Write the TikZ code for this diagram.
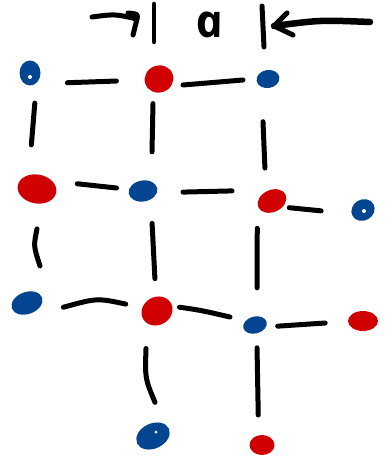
\documentclass[tikz,border=0pt]{standalone}
\usepackage{fontspec}
\newfontfamily\handfont{Open Sans}
\usetikzlibrary{shapes.geometric,calc}
\definecolor{dotblue}{RGB}{3,69,145}
\definecolor{dotred}{RGB}{208,0,0}
\begin{document}
\begin{tikzpicture}[x=1pt,y=-1pt,
  blob/.style={ellipse,inner sep=0pt,draw=none},
  bl/.style={blob,fill=dotblue},
  rd/.style={blob,fill=dotred},
  bond/.style={line width=5pt,line cap=round,line join=round,black},
  bar/.style={line width=4.5pt,line cap=round,black},
  hole/.style={fill=white}]
\useasboundingbox (0,0) rectangle (389,457);
% sites
\node[bl,minimum width=21pt,minimum height=25pt] (b1) at (30,73) {};
\node[rd,minimum width=29pt,minimum height=27pt,rotate=20] (r1) at (159,79) {};
\node[bl,minimum width=23pt,minimum height=18pt,rotate=10] (b2) at (268,79) {};
\node[rd,minimum width=39pt,minimum height=29pt,rotate=-10] (r2) at (37,189) {};
\node[bl,minimum width=29pt,minimum height=21pt,rotate=10] (b3) at (143,191) {};
\node[rd,minimum width=30pt,minimum height=22pt,rotate=25] (r3) at (272,201) {};
\node[bl,minimum width=24pt,minimum height=21pt,rotate=30] (b4) at (363,210) {};
\node[bl,minimum width=32pt,minimum height=22pt,rotate=20] (b5) at (27,303) {};
\node[rd,minimum width=32pt,minimum height=28pt,rotate=30] (r4) at (157,311) {};
\node[bl,minimum width=24pt,minimum height=17pt,rotate=15] (b6) at (255,325) {};
\node[rd,minimum width=30pt,minimum height=20pt] (r5) at (363,321) {};
\node[bl,minimum width=35pt,minimum height=25pt,rotate=25] (b7) at (153,436) {};
\node[rd,minimum width=25pt,minimum height=20pt] (r6) at (262,445) {};
% small white gaps in the blobs
\fill[hole] ($(b1)+(0,4)$) circle[radius=2];
\fill[hole] ($(b4)+(1,1)$) circle[radius=2];
\fill[hole] ($(b7)+(3,-4)$) circle[radius=1.5];
% bonds
\draw[bond] ($(b1)!0.29!(r1)+(0,8)$) -- ($(b1)!0.67!(r1)+(0,4)$);
\draw[bond] ($(r1)!0.22!(b2)+(0,6)$) -- ($(r1)!0.77!(b2)+(0,1)$);
\draw[bond] ($(b1)!0.26!(r2)+(3,0)$) -- ($(b1)!0.62!(r2)+(-3,0)$);
\draw[bond] ($(r1)!0.22!(b3)+(-2.5,0)$) -- ($(r1)!0.65!(b3)+(3.4,0)$);
\draw[bond] ($(b2)!0.35!(r3)+(-6.4,0)$) -- ($(b2)!0.73!(r3)+(-6,0)$);
\draw[bond] ($(r2)!0.38!(b3)+(0,-6)$) -- ($(r2)!0.75!(b3)+(0,-2.5)$);
\draw[bond] ($(b3)!0.31!(r3)+(0,-2)$) -- ($(b3)!0.69!(r3)+(0,-7)$);
\draw[bond] ($(r3)!0.19!(b4)+(0,5)$) -- ($(r3)!0.54!(b4)+(0,5)$);
\draw[bond] ($(r2)!0.35!(b5)+(3.5,0)$) .. controls ($(r2)!0.5!(b5)+(1.5,0)$) .. ($(r2)!0.675!(b5)+(9.75,0)$);
\draw[bond] ($(b3)!0.27!(r4)+(5.3,0)$) -- ($(b3)!0.73!(r4)+(1.7,0)$);
\draw[bond] ($(r3)!0.22!(b6)+(-11,0)$) -- ($(r3)!0.70!(b6)+(-3,0)$);
\draw[bond] ($(b5)!0.28!(r4)+(0,2)$) .. controls ($(b5)!0.5!(r4)+(5,-9)$) .. ($(b5)!0.76!(r4)+(0,-5)$);
\draw[bond] ($(r4)!0.23!(b6)+(0,-7)$) .. controls ($(r4)!0.45!(b6)+(0,-7)$) .. ($(r4)!0.745!(b6)+(0,-4.4)$);
\draw[bond] ($(b6)!0.21!(r5)+(0,2)$) -- ($(b6)!0.65!(r5)+(0,0.6)$);
\draw[bond] ($(r4)!0.30!(b7)+(-9.8,0)$) .. controls ($(r4)!0.5!(b7)+(-10,5)$) .. ($(r4)!0.73!(b7)+(0.9,0)$);
\draw[bond] ($(b6)!0.19!(r6)+(0.7,0)$) -- ($(b6)!0.75!(r6)+(-2,0)$);
% width annotation
\coordinate (bar1top) at (154,4);
\coordinate (bar1bot) at (154,42);
\coordinate (bar2top) at (262,6);
\coordinate (bar2bot) at (264,47);
\draw[bar] (bar1top) -- (bar1bot);
\draw[bar,line width=5pt] (bar2top) -- (bar2bot);
\node[inner sep=0pt,font=\handfont\bfseries\itshape\fontsize{46}{46}\selectfont,xslant=-0.2] (alabel) at (210,25) {a};
\coordinate (la0) at (92,17);
\coordinate (latip) at (137,19);
\draw[bond] (la0) .. controls (115,14) .. (latip);
\draw[bond] (128,13) .. controls (138,14) .. (latip) -- (133,35);
\coordinate (ra0) at (370,22);
\coordinate (ratip) at (274,26);
\draw[bond,line width=6.5pt] (ra0) .. controls (320,20) .. (ratip);
\draw[bond] (287,13) -- (ratip) -- (293,35);
\end{tikzpicture}
\end{document}
